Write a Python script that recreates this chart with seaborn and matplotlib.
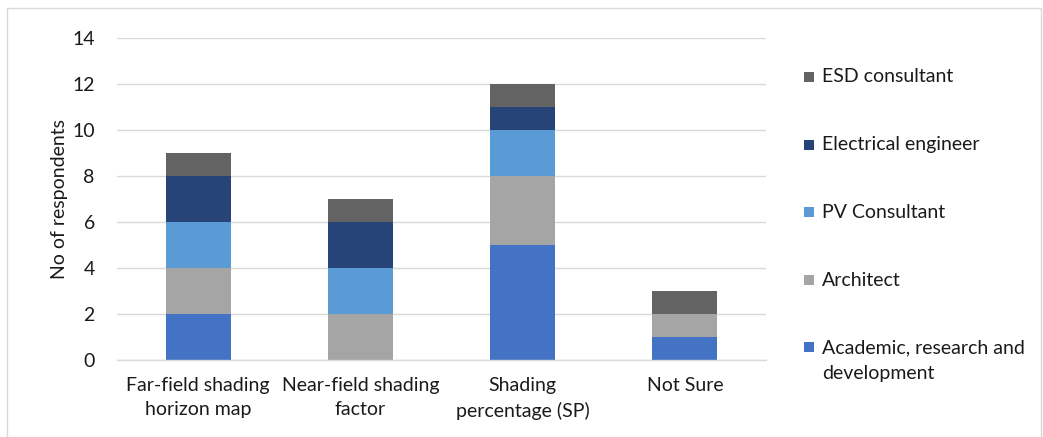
import matplotlib
matplotlib.use("Agg")
import matplotlib.pyplot as plt
from matplotlib.patches import Rectangle
import seaborn as sns
import pandas as pd

# Survey data: shading-assessment method vs respondent role
methods = ["Far-field shading\nhorizon map", "Near-field shading\nfactor",
           "Shading\npercentage (SP)", "Not Sure"]
roles = ["Academic, research and\ndevelopment", "Architect", "PV Consultant",
         "Electrical engineer", "ESD consultant"]
academic = [2, 0, 5, 1]
architect = [2, 2, 3, 1]
pv_consultant = [2, 2, 2, 0]
electrical = [2, 2, 1, 0]
esd = [1, 1, 1, 1]
y_ticks = [0, 2, 4, 6, 8, 10, 12, 14]

colors = ["#4472C4", "#A5A5A5", "#5B9BD5", "#264478", "#636363"]
series = [academic, architect, pv_consultant, electrical, esd]

sns.set_theme(style="white")
plt.rcParams["font.family"] = ["Lato", "DejaVu Sans"]
text_color = "#1a1a1a"
fs = 14

fig = plt.figure(figsize=(10.43, 4.37), dpi=100)
ax = fig.add_axes([0.1122, 0.1762, 0.6222, 0.7368])

bottom = [0] * len(methods)
for role, vals, col in zip(roles, series, colors):
    df = pd.DataFrame({"method": methods, "count": vals})
    sns.barplot(data=df, x="method", y="count", color=col, width=0.4,
                bottom=bottom, ax=ax, linewidth=0, saturation=1, errorbar=None)
    bottom = [b + v for b, v in zip(bottom, vals)]

ax.set_ylim(0, 14)
ax.set_yticks(y_ticks)
ax.set_xlim(-0.5, len(methods) - 0.5)
ax.grid(axis="y", color="#D9D9D9", linewidth=1)
ax.set_axisbelow(True)
for s in ["left", "right", "top"]:
    ax.spines[s].set_visible(False)
ax.spines["bottom"].set_color("#D9D9D9")
ax.spines["bottom"].set_linewidth(1)
ax.tick_params(axis="both", length=0, labelsize=fs, colors=text_color)
ax.tick_params(axis="y", pad=16)
ax.tick_params(axis="x", pad=12)
for lbl in ax.get_xticklabels():
    lbl.set_linespacing(1.55)
ax.set_xlabel("")
ax.set_ylabel("No of respondents", fontsize=fs, color=text_color)
ax.yaxis.set_label_coords(-0.0755, 0.5)

# Legend, stacked top-down in reverse series order
W, H = fig.get_size_inches() * fig.dpi
legend_y = [77, 145, 212, 280, 347]
for (role, col), yc in zip(list(zip(roles, colors))[::-1], legend_y):
    fig.patches.append(Rectangle((804 / W, 1 - (yc + 5) / H), 10 / W, 10 / H,
                                 transform=fig.transFigure, facecolor=col,
                                 edgecolor="none"))
    multi = "\n" in role
    fig.text(822 / W, 1 - (yc - 8) / H if multi else 1 - yc / H, role,
             fontsize=fs, color=text_color, va="top" if multi else "center",
             linespacing=1.62, transform=fig.transFigure)

# Chart border
fig.patches.append(Rectangle((7 / W, -0.05), (1041 - 7) / W, 1 - 8 / H + 0.05,
                             transform=fig.transFigure, facecolor="none",
                             edgecolor="#D9D9D9", linewidth=1))

fig.savefig("out.png", dpi=100)
